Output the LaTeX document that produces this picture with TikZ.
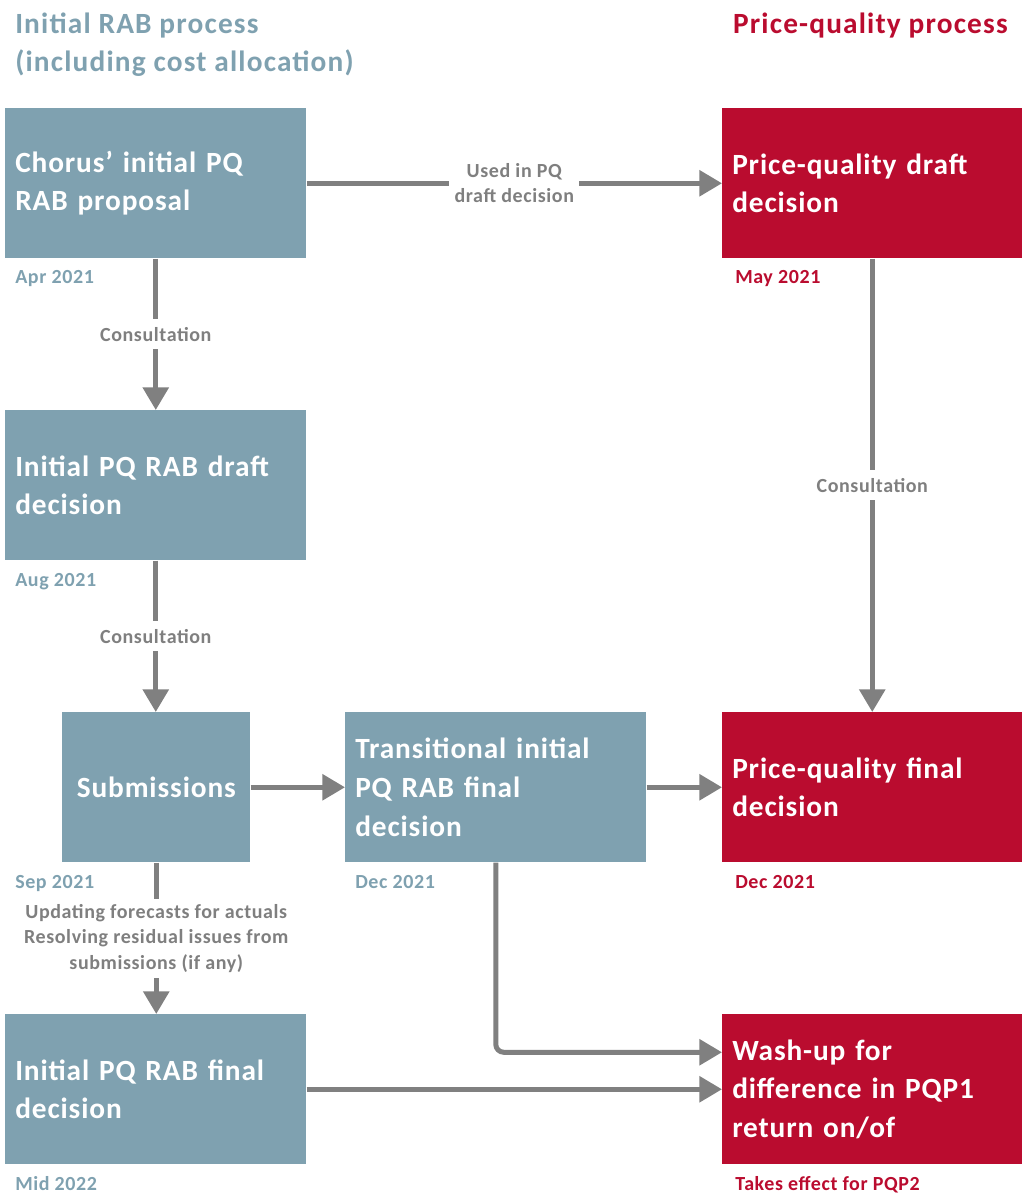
\documentclass[tikz,border=0pt]{standalone}
\usepackage{fontspec}
\setmainfont{Carlito}
\newfontfamily\spacedfont{Carlito}[LetterSpace=3]
\newfontfamily\headfont{Carlito}[LetterSpace=4]
\usetikzlibrary{arrows.meta}
\definecolor{rabcol}{HTML}{7FA1B0}
\definecolor{pqred}{HTML}{BA0C2F}
\definecolor{arrgray}{HTML}{808080}
\definecolor{lblgray}{HTML}{7F7F7F}
\begin{document}
\begin{tikzpicture}[x=0.75pt,y=-0.75pt,
  box/.style={rectangle, anchor=north west, minimum height=112.5pt, inner xsep=7.5pt, inner ysep=0pt,
    text=white, font=\spacedfont\bfseries\fontsize{22}{29}\selectfont, align=left},
  rabbox/.style={box, fill=rabcol},
  pqbox/.style={box, fill=pqred},
  heading/.style={anchor=base west, inner sep=0pt, font=\headfont\bfseries\fontsize{22}{28}\selectfont},
  datelbl/.style={anchor=base west, inner sep=0pt, font=\spacedfont\bfseries\fontsize{15}{18}\selectfont},
  arr/.style={draw=arrgray, line width=3.75pt, -{Triangle[length=17pt,width=19pt]}},
  lbl/.style={fill=white, text=lblgray, font=\spacedfont\bfseries\fontsize{15}{19}\selectfont, align=center, inner xsep=4pt, inner ysep=6pt}]
\useasboundingbox (0,0) rectangle (1023,1193);
% headings
\node[heading, text=rabcol] (h1) at (15,33) {Initial RAB process};
\node[heading, text=rabcol] (h2) at (15,71) {(including cost allocation)};
\node[heading, text=pqred, anchor=base east] (h3) at (1008,33) {Price-quality process};
% boxes
\node[rabbox, text width=210.75pt] (chorus) at (5,108) {Chorus’ initial PQ\\RAB proposal};
\node[pqbox, text width=210pt] (pqdraft) at (722,108) {Price-quality draft\\decision};
\node[rabbox, text width=210.75pt] (idraft) at (5,410) {Initial PQ RAB draft\\decision};
\node[rabbox, text width=126pt, align=center] (subm) at (62,712) {Submissions};
\node[rabbox, text width=210.75pt] (trans) at (345,712) {Transitional initial\\PQ RAB final\\decision};
\node[pqbox, text width=210pt] (pqfinal) at (722,712) {Price-quality final\\decision};
\node[rabbox, text width=210.75pt] (ifinal) at (5,1014) {Initial PQ RAB final\\decision};
\node[pqbox, text width=210pt] (wash) at (722,1014) {Wash-up for\\difference in PQP1\\return on/of};
% dates
\node[datelbl, text=rabcol] (d1) at (15,283) {Apr 2021};
\node[datelbl, text=pqred] (d2) at (735,283) {May 2021};
\node[datelbl, text=rabcol] (d3) at (15,586) {Aug 2021};
\node[datelbl, text=rabcol] (d4) at (15,888) {Sep 2021};
\node[datelbl, text=rabcol] (d5) at (355,888) {Dec 2021};
\node[datelbl, text=pqred] (d6) at (735,888) {Dec 2021};
\node[datelbl, text=rabcol] (d7) at (15,1190) {Mid 2022};
\node[datelbl, text=pqred] (d8) at (735,1190) {Takes effect for PQP2};
% connectors
\draw[arr] (chorus.east) -- node[lbl, pos=0.5] {Used in PQ\\draft decision} (pqdraft.west);
\draw[arr] (chorus.south) -- node[lbl, pos=0.5] {Consultation} (idraft.north);
\draw[arr] (idraft.south) -- node[lbl, pos=0.5] {Consultation} (idraft.south |- subm.north);
\draw[arr] (pqdraft.south) -- node[lbl, pos=0.5] {Consultation} (pqfinal.north);
\draw[arr] (subm.east) -- (trans.west);
\draw[arr] (trans.east) -- (pqfinal.west);
\draw[arr] (subm.south) -- node[lbl, pos=0.5, inner ysep=4pt] {Updating forecasts for actuals\\Resolving residual issues from\\submissions (if any)} (subm.south |- ifinal.north);
\draw[arr, rounded corners=6pt] (trans.south) |- ([yshift=27.75pt]wash.west);
\draw[arr] (ifinal.east) -- (wash.west);
\end{tikzpicture}
\end{document}
